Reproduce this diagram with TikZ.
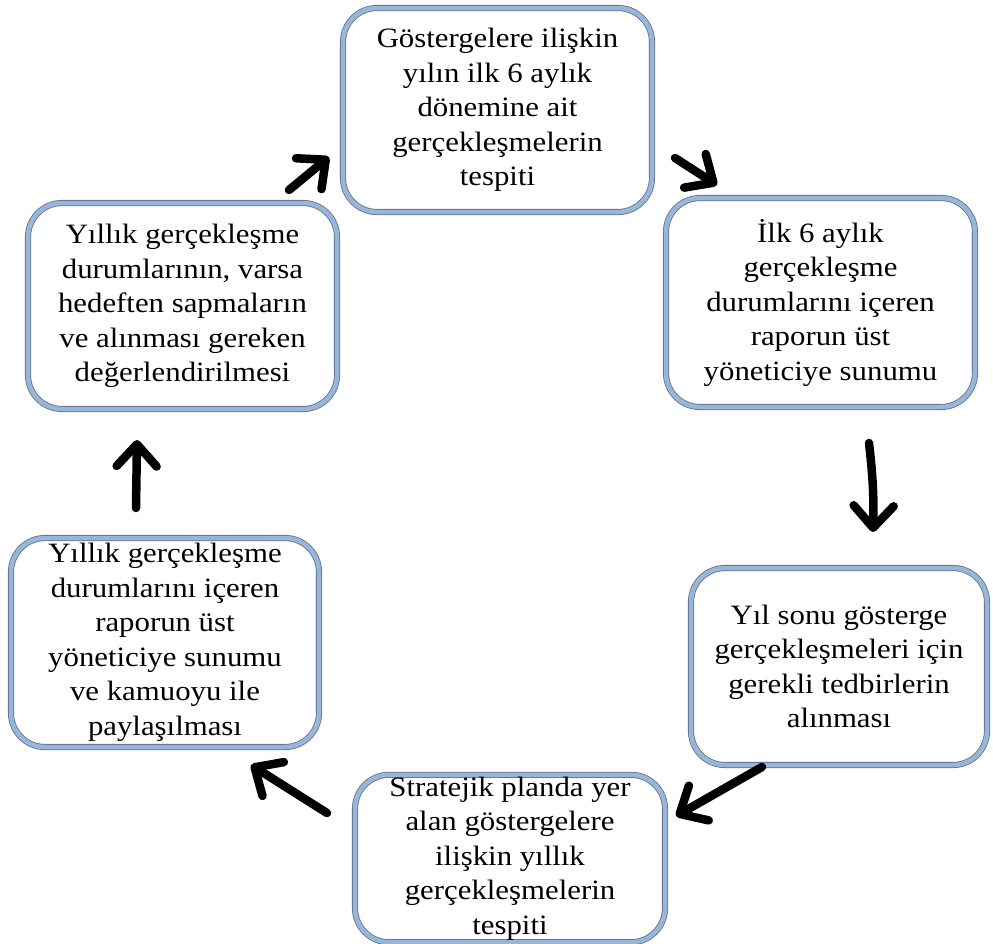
\documentclass[tikz,border=0pt]{standalone}
\usepackage{fontspec}
\setmainfont[FakeStretch=1.1]{Liberation Serif}
\usetikzlibrary{arrows.meta}
\definecolor{BoxBlue}{RGB}{152,181,218}
\definecolor{BoxEdge}{RGB}{96,112,138}

\begin{document}
\begin{tikzpicture}[x=1pt,y=1pt]
\tikzset{BoxStyle/.style={draw=BoxEdge,line width=0.8pt,double=BoxBlue,double distance=4.5pt,
  fill=white,rounded corners=34pt,align=center,inner sep=2pt,
  font=\fontsize{28}{34.5}\selectfont}}
\tikzset{ArrowStyle/.style={line width=8.5pt,line cap=round,
  -{Straight Barb[length=22pt,width=40pt,round]}}}
\useasboundingbox (0,0) rectangle (993,-943);

\node[BoxStyle,minimum width=309pt,minimum height=204pt] (1) at (497.5,-110)
  {Göstergelere ilişkin\\yılın ilk 6 aylık\\dönemine ait\\gerçekleşmelerin\\tespiti};
\node[BoxStyle,minimum width=309pt,minimum height=209pt] (2) at (820.5,-302.5)
  {İlk 6 aylık\\gerçekleşme\\durumlarını içeren\\raporun üst\\yöneticiye sunumu};
\node[BoxStyle,minimum width=296pt,minimum height=197pt] (3) at (839,-666.5)
  {Yıl sonu gösterge\\gerçekleşmeleri için\\gerekli tedbirlerin\\alınması};
\node[BoxStyle,minimum width=310pt,minimum height=147pt] (4) at (510,-858.5)
  {Stratejik planda yer\\alan göstergelere\\ilişkin yıllık\\gerçekleşmelerin\\tespiti};
\node[BoxStyle,minimum width=308pt,minimum height=209pt] (5) at (165,-642.5)
  {Yıllık gerçekleşme\\durumlarını içeren\\raporun üst\\yöneticiye sunumu\\ve kamuoyu ile\\paylaşılması};
\node[BoxStyle,minimum width=309pt,minimum height=206pt] (6) at (182.5,-306)
  {Yıllık gerçekleşme\\durumlarının, varsa\\hedeften sapmaların\\ve alınması gereken\\değerlendirilmesi};

% arrow ends
\coordinate (a1) at (289,-190);
\coordinate (b1) at (329,-157);
\coordinate (a2) at (675,-158);
\coordinate (b2) at (717,-185);
\coordinate (a3) at (869,-443);
\coordinate (b3) at (873,-532);
\coordinate (a4) at (762,-767);
\coordinate (b4) at (676,-816);
\coordinate (a5) at (327,-813);
\coordinate (b5) at (251,-765);
\coordinate (a6) at (136,-508);
\coordinate (b6) at (137,-440);

\draw[ArrowStyle] (a1) -- (b1);
\draw[ArrowStyle] (a2) -- (b2);
\draw[ArrowStyle] (a3) to[bend left=4] (b3);
\draw[ArrowStyle] (a4) -- (b4);
\draw[ArrowStyle] (a5) -- (b5);
\draw[ArrowStyle] (a6) -- (b6);
\end{tikzpicture}
\end{document}
